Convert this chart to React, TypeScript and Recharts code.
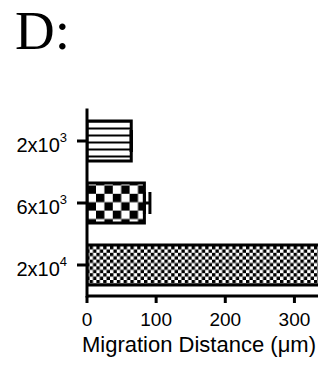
import React from "react";
import { BarChart, Bar, XAxis, YAxis, Cell, ErrorBar } from "recharts";

const categories = ["2x10^3", "6x10^3", "2x10^4"];
const distances = [64, 83, 337];
const errors = [0, 8, 10];
const xTicks = [0, 100, 200, 300];
const patterns = ["url(#hstripes)", "url(#bigcheck)", "url(#finecheck)"];

const data = categories.map((c, i) => ({
  label: c,
  value: distances[i],
  err: [0, errors[i]],
}));

const SANS = "'Liberation Sans', Arial, Helvetica, sans-serif";

const YTick = (props: any) => {
  const { x, y, payload } = props;
  const [base, exp] = String(payload.value).split("^");
  return (
    <text x={x} y={y} dy={11} textAnchor="end" fill="#000" fontFamily={SANS} fontSize={20}>
      <tspan>{base}</tspan>
      <tspan dy={-10} fontSize={13}>{exp}</tspan>
    </text>
  );
};

export default function App() {
  return (
    <div style={{ width: 318, height: 354, overflow: "hidden", background: "#fff" }}>
      <BarChart
        width={345}
        height={354}
        data={data}
        layout="vertical"
        margin={{ top: 102, right: 24, bottom: 0, left: 0 }}
      >
        <defs>
          <pattern id="hstripes" patternUnits="userSpaceOnUse" x={0} y={0.5} width={8} height={7}>
            <rect x={0} y={0} width={8} height={7} fill="#fff" />
            <rect x={0} y={0} width={8} height={2} fill="#000" />
          </pattern>
          <pattern id="bigcheck" patternUnits="userSpaceOnUse" x={4} y={1} width={16.8} height={16.8}>
            <rect x={0} y={0} width={16.8} height={16.8} fill="#fff" />
            <rect x={0} y={0} width={8.4} height={8.4} fill="#000" />
            <rect x={8.4} y={8.4} width={8.4} height={8.4} fill="#000" />
          </pattern>
          <pattern id="finecheck" patternUnits="userSpaceOnUse" x={0} y={0} width={6.8} height={6.8}>
            <rect x={0} y={0} width={6.8} height={6.8} fill="#fff" />
            <rect x={0} y={0} width={3.4} height={3.4} fill="#000" />
            <rect x={3.4} y={3.4} width={3.4} height={3.4} fill="#000" />
          </pattern>
        </defs>
        <text x={7} y={41} fontFamily="'Liberation Serif', 'Times New Roman', serif" fontSize={55} fill="#000">
          D:
        </text>
        <XAxis
          type="number"
          dataKey="value"
          domain={[0, 350]}
          ticks={xTicks}
          allowDataOverflow
          height={66}
          tickSize={7}
          tickMargin={10}
          axisLine={{ stroke: "#000", strokeWidth: 3 }}
          tickLine={{ stroke: "#000", strokeWidth: 3 }}
          tick={{ fill: "#000", fontSize: 19, fontFamily: SANS }}
          label={(props: any) => (
            <text x={74} y={344} fill="#000" fontSize={22} fontFamily={SANS}>
              Migration Distance (μm)
            </text>
          )}
        />
        <YAxis
          type="category"
          dataKey="label"
          width={79}
          tickSize={10}
          tickMargin={10}
          axisLine={{ stroke: "#000", strokeWidth: 3, strokeLinecap: "square" }}
          tickLine={{ stroke: "#000", strokeWidth: 3 }}
          tick={<YTick />}
        />
        <Bar dataKey="value" barSize={40} stroke="#000" strokeWidth={3} isAnimationActive={false}>
          {data.map((d, i) => (
            <Cell key={d.label} fill={patterns[i]} />
          ))}
          <ErrorBar dataKey="err" direction="x" width={11} stroke="#000" strokeWidth={3} />
        </Bar>
      </BarChart>
    </div>
  );
}
